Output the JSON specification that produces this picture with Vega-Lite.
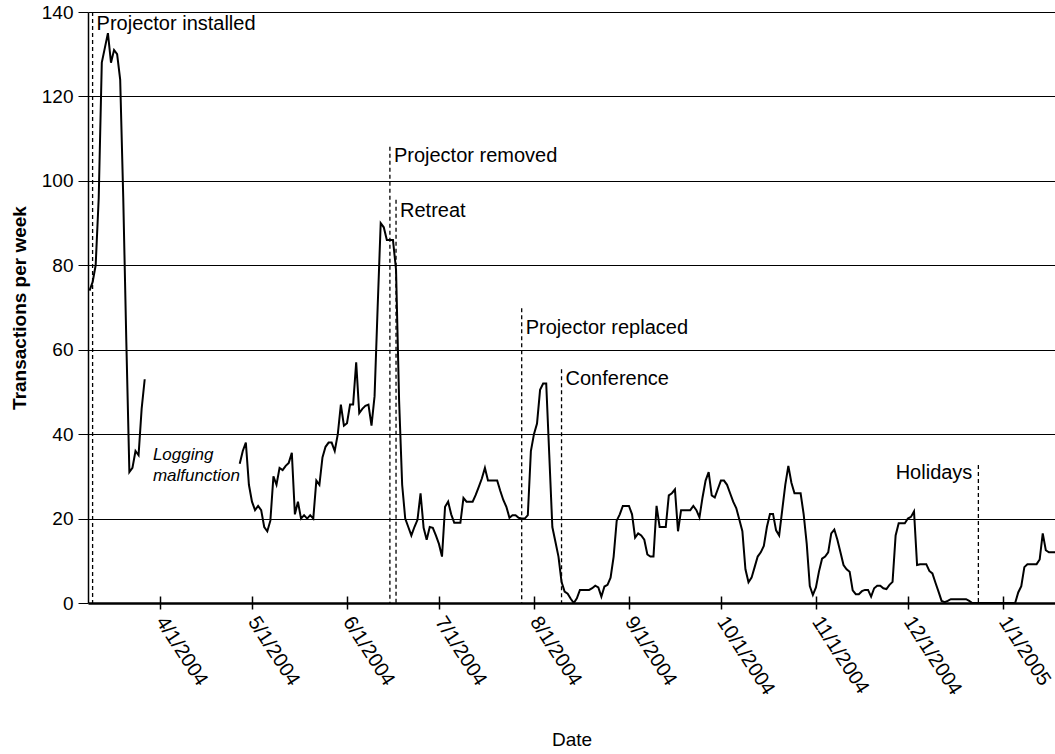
{
  "$schema": "https://vega.github.io/schema/vega-lite/v6.json",
  "autosize": "none",
  "padding": {"left": 88, "top": 12, "right": 0, "bottom": 151},
  "width": 967,
  "height": 591,
  "background": "white",
  "config": {"view": {"stroke": null}, "font": "Liberation Sans"},
  "datasets": {
    "series": [
      {"date": "2004/03/09", "v": 74, "seg": 1},
      {"date": "2004/03/10", "v": 76, "seg": 1},
      {"date": "2004/03/11", "v": 80, "seg": 1},
      {"date": "2004/03/12", "v": 96, "seg": 1},
      {"date": "2004/03/13", "v": 128, "seg": 1},
      {"date": "2004/03/14", "v": 131.5, "seg": 1},
      {"date": "2004/03/15", "v": 135, "seg": 1},
      {"date": "2004/03/16", "v": 128, "seg": 1},
      {"date": "2004/03/17", "v": 131, "seg": 1},
      {"date": "2004/03/18", "v": 130, "seg": 1},
      {"date": "2004/03/19", "v": 124, "seg": 1},
      {"date": "2004/03/20", "v": 96, "seg": 1},
      {"date": "2004/03/21", "v": 62, "seg": 1},
      {"date": "2004/03/22", "v": 31, "seg": 1},
      {"date": "2004/03/23", "v": 32, "seg": 1},
      {"date": "2004/03/24", "v": 36, "seg": 1},
      {"date": "2004/03/25", "v": 35, "seg": 1},
      {"date": "2004/03/26", "v": 46, "seg": 1},
      {"date": "2004/03/27", "v": 53, "seg": 1},
      {"date": "2004/04/27", "v": 33, "seg": 2},
      {"date": "2004/04/28", "v": 36, "seg": 2},
      {"date": "2004/04/29", "v": 38, "seg": 2},
      {"date": "2004/04/30", "v": 28, "seg": 2},
      {"date": "2004/05/01", "v": 24, "seg": 2},
      {"date": "2004/05/02", "v": 22, "seg": 2},
      {"date": "2004/05/03", "v": 23, "seg": 2},
      {"date": "2004/05/04", "v": 22, "seg": 2},
      {"date": "2004/05/05", "v": 18, "seg": 2},
      {"date": "2004/05/06", "v": 17, "seg": 2},
      {"date": "2004/05/07", "v": 19.5, "seg": 2},
      {"date": "2004/05/08", "v": 30, "seg": 2},
      {"date": "2004/05/09", "v": 28, "seg": 2},
      {"date": "2004/05/10", "v": 32, "seg": 2},
      {"date": "2004/05/11", "v": 31.5, "seg": 2},
      {"date": "2004/05/12", "v": 32.5, "seg": 2},
      {"date": "2004/05/13", "v": 33.2, "seg": 2},
      {"date": "2004/05/14", "v": 35.6, "seg": 2},
      {"date": "2004/05/15", "v": 21, "seg": 2},
      {"date": "2004/05/16", "v": 24, "seg": 2},
      {"date": "2004/05/17", "v": 20, "seg": 2},
      {"date": "2004/05/18", "v": 20.8, "seg": 2},
      {"date": "2004/05/19", "v": 20, "seg": 2},
      {"date": "2004/05/20", "v": 20.8, "seg": 2},
      {"date": "2004/05/21", "v": 20, "seg": 2},
      {"date": "2004/05/22", "v": 29, "seg": 2},
      {"date": "2004/05/23", "v": 28, "seg": 2},
      {"date": "2004/05/24", "v": 34.5, "seg": 2},
      {"date": "2004/05/25", "v": 37, "seg": 2},
      {"date": "2004/05/26", "v": 38, "seg": 2},
      {"date": "2004/05/27", "v": 38, "seg": 2},
      {"date": "2004/05/28", "v": 36, "seg": 2},
      {"date": "2004/05/29", "v": 40, "seg": 2},
      {"date": "2004/05/30", "v": 47, "seg": 2},
      {"date": "2004/05/31", "v": 42, "seg": 2},
      {"date": "2004/06/01", "v": 42.6, "seg": 2},
      {"date": "2004/06/02", "v": 47, "seg": 2},
      {"date": "2004/06/03", "v": 47, "seg": 2},
      {"date": "2004/06/04", "v": 57, "seg": 2},
      {"date": "2004/06/05", "v": 45, "seg": 2},
      {"date": "2004/06/06", "v": 46, "seg": 2},
      {"date": "2004/06/07", "v": 46.7, "seg": 2},
      {"date": "2004/06/08", "v": 47, "seg": 2},
      {"date": "2004/06/09", "v": 42, "seg": 2},
      {"date": "2004/06/10", "v": 49, "seg": 2},
      {"date": "2004/06/11", "v": 70, "seg": 2},
      {"date": "2004/06/12", "v": 90, "seg": 2},
      {"date": "2004/06/13", "v": 89, "seg": 2},
      {"date": "2004/06/14", "v": 86, "seg": 2},
      {"date": "2004/06/15", "v": 86, "seg": 2},
      {"date": "2004/06/16", "v": 86, "seg": 2},
      {"date": "2004/06/17", "v": 79, "seg": 2},
      {"date": "2004/06/18", "v": 48, "seg": 2},
      {"date": "2004/06/19", "v": 28, "seg": 2},
      {"date": "2004/06/20", "v": 20, "seg": 2},
      {"date": "2004/06/21", "v": 18, "seg": 2},
      {"date": "2004/06/22", "v": 16, "seg": 2},
      {"date": "2004/06/23", "v": 18, "seg": 2},
      {"date": "2004/06/24", "v": 19.7, "seg": 2},
      {"date": "2004/06/25", "v": 26, "seg": 2},
      {"date": "2004/06/26", "v": 17.8, "seg": 2},
      {"date": "2004/06/27", "v": 15, "seg": 2},
      {"date": "2004/06/28", "v": 18, "seg": 2},
      {"date": "2004/06/29", "v": 17.8, "seg": 2},
      {"date": "2004/06/30", "v": 16, "seg": 2},
      {"date": "2004/07/01", "v": 14, "seg": 2},
      {"date": "2004/07/02", "v": 11, "seg": 2},
      {"date": "2004/07/03", "v": 22.8, "seg": 2},
      {"date": "2004/07/04", "v": 24, "seg": 2},
      {"date": "2004/07/05", "v": 21, "seg": 2},
      {"date": "2004/07/06", "v": 19, "seg": 2},
      {"date": "2004/07/07", "v": 19, "seg": 2},
      {"date": "2004/07/08", "v": 19, "seg": 2},
      {"date": "2004/07/09", "v": 24.9, "seg": 2},
      {"date": "2004/07/10", "v": 24, "seg": 2},
      {"date": "2004/07/11", "v": 24, "seg": 2},
      {"date": "2004/07/12", "v": 24, "seg": 2},
      {"date": "2004/07/13", "v": 25.6, "seg": 2},
      {"date": "2004/07/14", "v": 27.5, "seg": 2},
      {"date": "2004/07/15", "v": 29.5, "seg": 2},
      {"date": "2004/07/16", "v": 32, "seg": 2},
      {"date": "2004/07/17", "v": 29, "seg": 2},
      {"date": "2004/07/18", "v": 29, "seg": 2},
      {"date": "2004/07/19", "v": 29, "seg": 2},
      {"date": "2004/07/20", "v": 29, "seg": 2},
      {"date": "2004/07/21", "v": 26.6, "seg": 2},
      {"date": "2004/07/22", "v": 24.4, "seg": 2},
      {"date": "2004/07/23", "v": 22.8, "seg": 2},
      {"date": "2004/07/24", "v": 20.2, "seg": 2},
      {"date": "2004/07/25", "v": 20.8, "seg": 2},
      {"date": "2004/07/26", "v": 20.8, "seg": 2},
      {"date": "2004/07/27", "v": 20.2, "seg": 2},
      {"date": "2004/07/28", "v": 20, "seg": 2},
      {"date": "2004/07/29", "v": 20, "seg": 2},
      {"date": "2004/07/30", "v": 20.8, "seg": 2},
      {"date": "2004/07/31", "v": 36, "seg": 2},
      {"date": "2004/08/01", "v": 40, "seg": 2},
      {"date": "2004/08/02", "v": 42.5, "seg": 2},
      {"date": "2004/08/03", "v": 50.5, "seg": 2},
      {"date": "2004/08/04", "v": 52, "seg": 2},
      {"date": "2004/08/05", "v": 52, "seg": 2},
      {"date": "2004/08/06", "v": 35, "seg": 2},
      {"date": "2004/08/07", "v": 18, "seg": 2},
      {"date": "2004/08/08", "v": 14.5, "seg": 2},
      {"date": "2004/08/09", "v": 11, "seg": 2},
      {"date": "2004/08/10", "v": 5, "seg": 2},
      {"date": "2004/08/11", "v": 2.7, "seg": 2},
      {"date": "2004/08/12", "v": 2.2, "seg": 2},
      {"date": "2004/08/13", "v": 1, "seg": 2},
      {"date": "2004/08/14", "v": 0, "seg": 2},
      {"date": "2004/08/15", "v": 1.1, "seg": 2},
      {"date": "2004/08/16", "v": 3.1, "seg": 2},
      {"date": "2004/08/17", "v": 3.1, "seg": 2},
      {"date": "2004/08/18", "v": 3.1, "seg": 2},
      {"date": "2004/08/19", "v": 3.1, "seg": 2},
      {"date": "2004/08/20", "v": 3.5, "seg": 2},
      {"date": "2004/08/21", "v": 4.1, "seg": 2},
      {"date": "2004/08/22", "v": 3.7, "seg": 2},
      {"date": "2004/08/23", "v": 1.5, "seg": 2},
      {"date": "2004/08/24", "v": 3.9, "seg": 2},
      {"date": "2004/08/25", "v": 4.3, "seg": 2},
      {"date": "2004/08/26", "v": 6, "seg": 2},
      {"date": "2004/08/27", "v": 11, "seg": 2},
      {"date": "2004/08/28", "v": 19.5, "seg": 2},
      {"date": "2004/08/29", "v": 21, "seg": 2},
      {"date": "2004/08/30", "v": 23, "seg": 2},
      {"date": "2004/08/31", "v": 23, "seg": 2},
      {"date": "2004/09/01", "v": 23, "seg": 2},
      {"date": "2004/09/02", "v": 21, "seg": 2},
      {"date": "2004/09/03", "v": 15.5, "seg": 2},
      {"date": "2004/09/04", "v": 16.5, "seg": 2},
      {"date": "2004/09/05", "v": 16, "seg": 2},
      {"date": "2004/09/06", "v": 15, "seg": 2},
      {"date": "2004/09/07", "v": 11.5, "seg": 2},
      {"date": "2004/09/08", "v": 11, "seg": 2},
      {"date": "2004/09/09", "v": 11, "seg": 2},
      {"date": "2004/09/10", "v": 23, "seg": 2},
      {"date": "2004/09/11", "v": 18, "seg": 2},
      {"date": "2004/09/12", "v": 18, "seg": 2},
      {"date": "2004/09/13", "v": 18, "seg": 2},
      {"date": "2004/09/14", "v": 25.5, "seg": 2},
      {"date": "2004/09/15", "v": 26, "seg": 2},
      {"date": "2004/09/16", "v": 26.9, "seg": 2},
      {"date": "2004/09/17", "v": 17, "seg": 2},
      {"date": "2004/09/18", "v": 22, "seg": 2},
      {"date": "2004/09/19", "v": 22, "seg": 2},
      {"date": "2004/09/20", "v": 22, "seg": 2},
      {"date": "2004/09/21", "v": 22, "seg": 2},
      {"date": "2004/09/22", "v": 23, "seg": 2},
      {"date": "2004/09/23", "v": 22, "seg": 2},
      {"date": "2004/09/24", "v": 20.3, "seg": 2},
      {"date": "2004/09/25", "v": 25, "seg": 2},
      {"date": "2004/09/26", "v": 29, "seg": 2},
      {"date": "2004/09/27", "v": 31, "seg": 2},
      {"date": "2004/09/28", "v": 25.5, "seg": 2},
      {"date": "2004/09/29", "v": 25, "seg": 2},
      {"date": "2004/09/30", "v": 27, "seg": 2},
      {"date": "2004/10/01", "v": 29, "seg": 2},
      {"date": "2004/10/02", "v": 29, "seg": 2},
      {"date": "2004/10/03", "v": 28, "seg": 2},
      {"date": "2004/10/04", "v": 26, "seg": 2},
      {"date": "2004/10/05", "v": 24, "seg": 2},
      {"date": "2004/10/06", "v": 22.5, "seg": 2},
      {"date": "2004/10/07", "v": 19.8, "seg": 2},
      {"date": "2004/10/08", "v": 17, "seg": 2},
      {"date": "2004/10/09", "v": 8, "seg": 2},
      {"date": "2004/10/10", "v": 4.9, "seg": 2},
      {"date": "2004/10/11", "v": 6, "seg": 2},
      {"date": "2004/10/12", "v": 8.5, "seg": 2},
      {"date": "2004/10/13", "v": 11, "seg": 2},
      {"date": "2004/10/14", "v": 12, "seg": 2},
      {"date": "2004/10/15", "v": 13.5, "seg": 2},
      {"date": "2004/10/16", "v": 18, "seg": 2},
      {"date": "2004/10/17", "v": 21.1, "seg": 2},
      {"date": "2004/10/18", "v": 21.1, "seg": 2},
      {"date": "2004/10/19", "v": 17.2, "seg": 2},
      {"date": "2004/10/20", "v": 16, "seg": 2},
      {"date": "2004/10/21", "v": 22, "seg": 2},
      {"date": "2004/10/22", "v": 28, "seg": 2},
      {"date": "2004/10/23", "v": 32.5, "seg": 2},
      {"date": "2004/10/24", "v": 28.5, "seg": 2},
      {"date": "2004/10/25", "v": 26, "seg": 2},
      {"date": "2004/10/26", "v": 26, "seg": 2},
      {"date": "2004/10/27", "v": 26, "seg": 2},
      {"date": "2004/10/28", "v": 21, "seg": 2},
      {"date": "2004/10/29", "v": 14, "seg": 2},
      {"date": "2004/10/30", "v": 4, "seg": 2},
      {"date": "2004/10/31", "v": 1.9, "seg": 2},
      {"date": "2004/11/01", "v": 3.7, "seg": 2},
      {"date": "2004/11/02", "v": 7.5, "seg": 2},
      {"date": "2004/11/03", "v": 10.5, "seg": 2},
      {"date": "2004/11/04", "v": 11, "seg": 2},
      {"date": "2004/11/05", "v": 12, "seg": 2},
      {"date": "2004/11/06", "v": 16.5, "seg": 2},
      {"date": "2004/11/07", "v": 17.4, "seg": 2},
      {"date": "2004/11/08", "v": 15, "seg": 2},
      {"date": "2004/11/09", "v": 12, "seg": 2},
      {"date": "2004/11/10", "v": 9, "seg": 2},
      {"date": "2004/11/11", "v": 8, "seg": 2},
      {"date": "2004/11/12", "v": 7.4, "seg": 2},
      {"date": "2004/11/13", "v": 3, "seg": 2},
      {"date": "2004/11/14", "v": 2.1, "seg": 2},
      {"date": "2004/11/15", "v": 2.1, "seg": 2},
      {"date": "2004/11/16", "v": 2.8, "seg": 2},
      {"date": "2004/11/17", "v": 3.1, "seg": 2},
      {"date": "2004/11/18", "v": 3.1, "seg": 2},
      {"date": "2004/11/19", "v": 1.5, "seg": 2},
      {"date": "2004/11/20", "v": 3.5, "seg": 2},
      {"date": "2004/11/21", "v": 4.1, "seg": 2},
      {"date": "2004/11/22", "v": 4.1, "seg": 2},
      {"date": "2004/11/23", "v": 3.5, "seg": 2},
      {"date": "2004/11/24", "v": 3.3, "seg": 2},
      {"date": "2004/11/25", "v": 4.3, "seg": 2},
      {"date": "2004/11/26", "v": 5, "seg": 2},
      {"date": "2004/11/27", "v": 16, "seg": 2},
      {"date": "2004/11/28", "v": 18.9, "seg": 2},
      {"date": "2004/11/29", "v": 18.9, "seg": 2},
      {"date": "2004/11/30", "v": 18.9, "seg": 2},
      {"date": "2004/12/01", "v": 20, "seg": 2},
      {"date": "2004/12/02", "v": 20.4, "seg": 2},
      {"date": "2004/12/03", "v": 21.7, "seg": 2},
      {"date": "2004/12/04", "v": 9, "seg": 2},
      {"date": "2004/12/05", "v": 9.2, "seg": 2},
      {"date": "2004/12/06", "v": 9.2, "seg": 2},
      {"date": "2004/12/07", "v": 9.2, "seg": 2},
      {"date": "2004/12/08", "v": 7.6, "seg": 2},
      {"date": "2004/12/09", "v": 7, "seg": 2},
      {"date": "2004/12/10", "v": 4.8, "seg": 2},
      {"date": "2004/12/11", "v": 2.7, "seg": 2},
      {"date": "2004/12/12", "v": 0.5, "seg": 2},
      {"date": "2004/12/13", "v": 0.2, "seg": 2},
      {"date": "2004/12/14", "v": 0.5, "seg": 2},
      {"date": "2004/12/15", "v": 0.9, "seg": 2},
      {"date": "2004/12/16", "v": 0.9, "seg": 2},
      {"date": "2004/12/17", "v": 0.9, "seg": 2},
      {"date": "2004/12/18", "v": 0.9, "seg": 2},
      {"date": "2004/12/19", "v": 0.9, "seg": 2},
      {"date": "2004/12/20", "v": 0.9, "seg": 2},
      {"date": "2004/12/21", "v": 0.5, "seg": 2},
      {"date": "2004/12/22", "v": 0, "seg": 2},
      {"date": "2004/12/23", "v": 0, "seg": 2},
      {"date": "2004/12/24", "v": 0, "seg": 2},
      {"date": "2004/12/25", "v": 0, "seg": 2},
      {"date": "2004/12/26", "v": 0, "seg": 2},
      {"date": "2004/12/27", "v": 0, "seg": 2},
      {"date": "2004/12/28", "v": 0, "seg": 2},
      {"date": "2004/12/29", "v": 0, "seg": 2},
      {"date": "2004/12/30", "v": 0, "seg": 2},
      {"date": "2004/12/31", "v": 0, "seg": 2},
      {"date": "2005/01/01", "v": 0, "seg": 2},
      {"date": "2005/01/02", "v": 0, "seg": 2},
      {"date": "2005/01/03", "v": 0, "seg": 2},
      {"date": "2005/01/04", "v": 0, "seg": 2},
      {"date": "2005/01/05", "v": 0, "seg": 2},
      {"date": "2005/01/06", "v": 2.5, "seg": 2},
      {"date": "2005/01/07", "v": 4, "seg": 2},
      {"date": "2005/01/08", "v": 8.5, "seg": 2},
      {"date": "2005/01/09", "v": 9.2, "seg": 2},
      {"date": "2005/01/10", "v": 9.2, "seg": 2},
      {"date": "2005/01/11", "v": 9.2, "seg": 2},
      {"date": "2005/01/12", "v": 9.2, "seg": 2},
      {"date": "2005/01/13", "v": 10.3, "seg": 2},
      {"date": "2005/01/14", "v": 16.5, "seg": 2},
      {"date": "2005/01/15", "v": 12.5, "seg": 2},
      {"date": "2005/01/16", "v": 12, "seg": 2},
      {"date": "2005/01/17", "v": 12, "seg": 2},
      {"date": "2005/01/18", "v": 12, "seg": 2}
    ],
    "events": [
      {"date": "2004/03/10", "top": 140, "ly": 137.2, "label": "Projector installed", "side": "left"},
      {"date": "2004/06/15", "top": 108.1, "ly": 105.8, "label": "Projector removed", "side": "left"},
      {"date": "2004/06/17", "top": 95.5, "ly": 92.8, "label": "Retreat", "side": "left"},
      {"date": "2004/07/28", "top": 69.8, "ly": 65.2, "label": "Projector replaced", "side": "left"},
      {"date": "2004/08/10", "top": 55.4, "ly": 53.1, "label": "Conference", "side": "left"},
      {"date": "2004/12/24", "top": 32.7, "ly": 30.8, "label": "Holidays", "side": "right"}
    ],
    "notes": [
      {"date": "2004/03/30", "v": 35, "text": "Logging\nmalfunction"}
    ]
  },
  "layer": [
    {
      "data": {"name": "events"},
      "mark": {"type": "rule", "strokeDash": [4, 3], "strokeWidth": 1.3, "color": "black"},
      "encoding": {
        "x": {"field": "date", "type": "temporal"},
        "y": {"field": "top", "type": "quantitative"},
        "y2": {"datum": 0}
      }
    },
    {
      "data": {"name": "series"},
      "mark": {"type": "line", "color": "black", "strokeWidth": 2, "clip": true},
      "encoding": {
        "x": {
          "field": "date",
          "type": "temporal",
          "title": "Date",
          "scale": {"domain": [{"year": 2004, "month": 3, "date": 8, "hours": 12}, {"year": 2005, "month": 1, "date": 18}]},
          "axis": {
            "values": [
              {"year": 2004, "month": 4, "date": 1},
              {"year": 2004, "month": 5, "date": 1},
              {"year": 2004, "month": 6, "date": 1},
              {"year": 2004, "month": 7, "date": 1},
              {"year": 2004, "month": 8, "date": 1},
              {"year": 2004, "month": 9, "date": 1},
              {"year": 2004, "month": 10, "date": 1},
              {"year": 2004, "month": 11, "date": 1},
              {"year": 2004, "month": 12, "date": 1},
              {"year": 2005, "month": 1, "date": 1}
            ],
            "format": "%-m/%-d/%Y",
            "labelAngle": 57,
            "labelAlign": "left",
            "labelBaseline": "middle",
            "labelFontSize": 20,
            "labelColor": "black",
            "labelOverlap": false,
            "labelFlush": false,
            "labelBound": false,
            "labelPadding": 9,
            "tickSize": 13,
            "tickColor": "black",
            "tickWidth": 1.5,
            "domain": false,
            "offset": -7,
            "grid": false,
            "titleFontSize": 19,
            "titleFontWeight": "normal",
            "titleColor": "black",
            "titlePadding": 32
          }
        },
        "y": {
          "field": "v",
          "type": "quantitative",
          "title": "Transactions per week",
          "scale": {"domain": [0, 140], "nice": false},
          "axis": {
            "values": [0, 20, 40, 60, 80, 100, 120, 140],
            "tickSize": 10,
            "tickColor": "black",
            "labelFontSize": 19,
            "labelPadding": 5,
            "labelColor": "black",
            "labelFlush": false,
            "domainColor": "black",
            "domainWidth": 1.5,
            "gridColor": "black",
            "gridWidth": {"condition": {"test": "datum.value === 0", "value": 2.5}, "value": 1},
            "titleFontSize": 19,
            "titleFontWeight": "bold",
            "titleColor": "black",
            "titlePadding": 12
          }
        },
        "detail": {"field": "seg", "type": "nominal"}
      }
    },
    {
      "data": {"name": "events"},
      "transform": [{"filter": "datum.side == 'left'"}],
      "mark": {"type": "text", "align": "left", "baseline": "middle", "dx": 4, "fontSize": 20, "color": "black"},
      "encoding": {
        "x": {"field": "date", "type": "temporal"},
        "y": {"field": "ly", "type": "quantitative"},
        "text": {"field": "label"}
      }
    },
    {
      "data": {"name": "events"},
      "transform": [{"filter": "datum.side == 'right'"}],
      "mark": {"type": "text", "align": "right", "baseline": "middle", "dx": -6, "fontSize": 20, "color": "black"},
      "encoding": {
        "x": {"field": "date", "type": "temporal"},
        "y": {"field": "ly", "type": "quantitative"},
        "text": {"field": "label"}
      }
    },
    {
      "data": {"name": "notes"},
      "mark": {"type": "text", "align": "left", "baseline": "middle", "dx": -1, "fontSize": 17, "fontStyle": "italic", "lineBreak": "\n", "lineHeight": 21, "color": "black"},
      "encoding": {
        "x": {"field": "date", "type": "temporal"},
        "y": {"field": "v", "type": "quantitative"},
        "text": {"field": "text"}
      }
    }
  ]
}
